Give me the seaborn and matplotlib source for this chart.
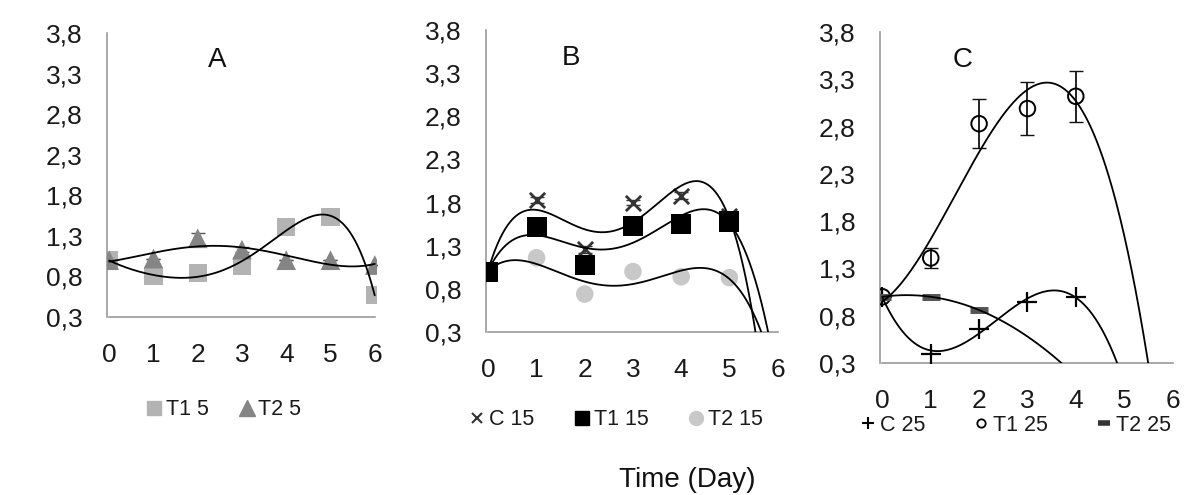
import numpy as np
import pandas as pd
import matplotlib
matplotlib.use("Agg")
import matplotlib.pyplot as plt
from matplotlib.lines import Line2D
import seaborn as sns

# days
days_a = [0, 1, 2, 3, 4, 5, 6]
days_b = [0, 1, 2, 3, 4, 5]
days_c = [0, 1, 2, 3, 4]
days_c_t2 = [0, 1, 2]

# panel A (5)
t1_5 = [1.0, 0.80, 0.84, 0.93, 1.41, 1.53, 0.57]
t2_5 = [1.0, 1.02, 1.27, 1.13, 1.0, 1.0, 0.94]
t2_5_err = [0, 0, 0.07, 0.03, 0, 0, 0]

# panel B (15)
c_15 = [1.0, 1.83, 1.26, 1.80, 1.88, 1.64]
c_15_err = [0, 0.03, 0.04, 0.03, 0.04, 0.03]
t1_15 = [1.0, 1.52, 1.08, 1.53, 1.55, 1.58]
t2_15 = [1.0, 1.16, 0.74, 1.0, 0.94, 0.93]

# panel C (25)
c_25 = [1.0, 0.40, 0.66, 0.95, 1.0]
t1_25 = [1.0, 1.41, 2.83, 2.99, 3.12]
t1_25_err = [0.02, 0.11, 0.26, 0.28, 0.27]
t2_25 = [1.0, 1.0, 0.86]

yticks = [0.3, 0.8, 1.3, 1.8, 2.3, 2.8, 3.3, 3.8]
xticks = [0, 1, 2, 3, 4, 5, 6]

sns.set_theme(style="white")
plt.rcParams["font.family"] = ["Liberation Sans", "DejaVu Sans"]

axis_grey = "#9a9a9a"


def trend(ax, x, y, order):
    # polynomial trendline, like the spreadsheet ones
    coefs = np.polyfit(x, y, order)
    xs = np.linspace(0, 6, 300)
    df = pd.DataFrame({"x": xs, "y": np.polyval(coefs, xs)})
    sns.lineplot(data=df, x="x", y="y", ax=ax, color="black", linewidth=1.3,
                 sort=False, zorder=4)


def style_axes(ax, letter, lx, ly):
    ax.set_xlim(-0.05, 6.05)
    ax.set_ylim(0.3, 3.8)
    ax.set_xticks(xticks)
    ax.set_yticks(yticks)
    ax.set_yticklabels([f"{v:.1f}".replace(".", ",") for v in yticks])
    for s in ["top", "right"]:
        ax.spines[s].set_visible(False)
    for s in ["left", "bottom"]:
        ax.spines[s].set_color(axis_grey)
        ax.spines[s].set_linewidth(1.2)
    ax.spines["bottom"].set_bounds(0, 6)
    ax.tick_params(axis="both", direction="out", length=6.5, width=1.2,
                   color=axis_grey, labelsize=19, labelcolor="#1a1a1a")
    ax.tick_params(axis="x", pad=12)
    ax.tick_params(axis="y", pad=11)
    ax.set_xlabel("")
    ax.set_ylabel("")
    ax.text(lx, ly, letter, transform=ax.transAxes, fontsize=20,
            ha="center", va="center", color="#111111")


fig = plt.figure(figsize=(11.85, 4.95), dpi=100)
ax_a = fig.add_axes([0.0903, 0.3596, 0.2278, 0.5737])
ax_b = fig.add_axes([0.4101, 0.3293, 0.2481, 0.6101])
ax_c = fig.add_axes([0.7426, 0.2667, 0.2489, 0.6687])

# ---- A
trend(ax_a, days_a, t1_5, 5)
trend(ax_a, days_a, t2_5, 4)
ax_a.errorbar(days_a, t2_5, yerr=t2_5_err, fmt="none", ecolor="#555555",
              elinewidth=1.2, capsize=5, zorder=3)
sns.scatterplot(x=days_a, y=t1_5, ax=ax_a, marker="s", s=170,
                color="#b3b3b3", edgecolor="none", zorder=2)
sns.scatterplot(x=days_a, y=t2_5, ax=ax_a, marker="^", s=200,
                color="#858585", edgecolor="none", zorder=3)
style_axes(ax_a, "A", 0.41, 0.905)

# ---- B
trend(ax_b, days_b, c_15, 4)
trend(ax_b, days_b, t1_15, 4)
trend(ax_b, days_b, t2_15, 4)
ax_b.errorbar(days_b, c_15, yerr=c_15_err, fmt="none", ecolor="#333333",
              elinewidth=1.2, capsize=5, zorder=3)
sns.scatterplot(x=days_b, y=t2_15, ax=ax_b, marker="o", s=160,
                color="#c8c8c8", edgecolor="none", zorder=2)
sns.scatterplot(x=days_b, y=c_15, ax=ax_b, marker="x", s=120,
                color="#333333", linewidth=2, zorder=3)
sns.scatterplot(x=days_b, y=t1_15, ax=ax_b, marker="s", s=210,
                color="black", edgecolor="none", zorder=3)
style_axes(ax_b, "B", 0.29, 0.907)

# ---- C
trend(ax_c, days_c, c_25, 3)
trend(ax_c, days_c, t1_25, 3)
trend(ax_c, days_c_t2, t2_25, 2)
ax_c.errorbar(days_c, t1_25, yerr=t1_25_err, fmt="none", ecolor="#111111",
              elinewidth=1.3, capsize=5, zorder=3)
sns.scatterplot(x=days_c, y=c_25, ax=ax_c, marker="+", s=200,
                color="black", linewidth=1.6, zorder=3)
sns.scatterplot(x=days_c, y=t1_25, ax=ax_c, marker="o", s=125,
                facecolor="none", edgecolor="black", linewidth=1.4, zorder=3)
sns.scatterplot(x=days_c_t2, y=t2_25, ax=ax_c, marker="_", s=160,
                color="#555555", linewidth=5, zorder=3)
style_axes(ax_c, "C", 0.28, 0.915)


def leg(ax, handles, labels, x, y, spacing):
    lg = ax.legend(handles, labels, loc="center", bbox_to_anchor=(x, y),
                   bbox_transform=fig.transFigure, ncol=len(handles),
                   frameon=False, fontsize=15.5, handlelength=0.7,
                   handletextpad=0.2, columnspacing=spacing,
                   borderpad=0, labelcolor="#1a1a1a")
    return lg


leg(ax_a,
    [Line2D([], [], ls="", marker="s", ms=10, color="#b3b3b3"),
     Line2D([], [], ls="", marker="^", ms=11, color="#858585")],
    ["T1 5", "T2 5"], 0.189, 0.172, 1.4)
leg(ax_b,
    [Line2D([], [], ls="", marker="x", ms=7, mew=1.5, color="#333333"),
     Line2D([], [], ls="", marker="s", ms=10, color="black"),
     Line2D([], [], ls="", marker="o", ms=10, color="#c8c8c8")],
    ["C 15", "T1 15", "T2 15"], 0.52, 0.152, 1.85)
leg(ax_c,
    [Line2D([], [], ls="", marker="+", ms=8, mew=1.5, color="black"),
     Line2D([], [], ls="", marker="o", ms=6, mfc="none", mec="black",
            mew=1.3),
     Line2D([], [], ls="", marker="_", ms=8, mew=4, color="#333333")],
    ["C 25", "T1 25", "T2 25"], 0.857, 0.141, 2.25)

fig.text(0.58, 0.004, "Time (Day)", fontsize=20, ha="center", va="bottom",
         color="#111111")

fig.savefig("out.png", dpi=100)
